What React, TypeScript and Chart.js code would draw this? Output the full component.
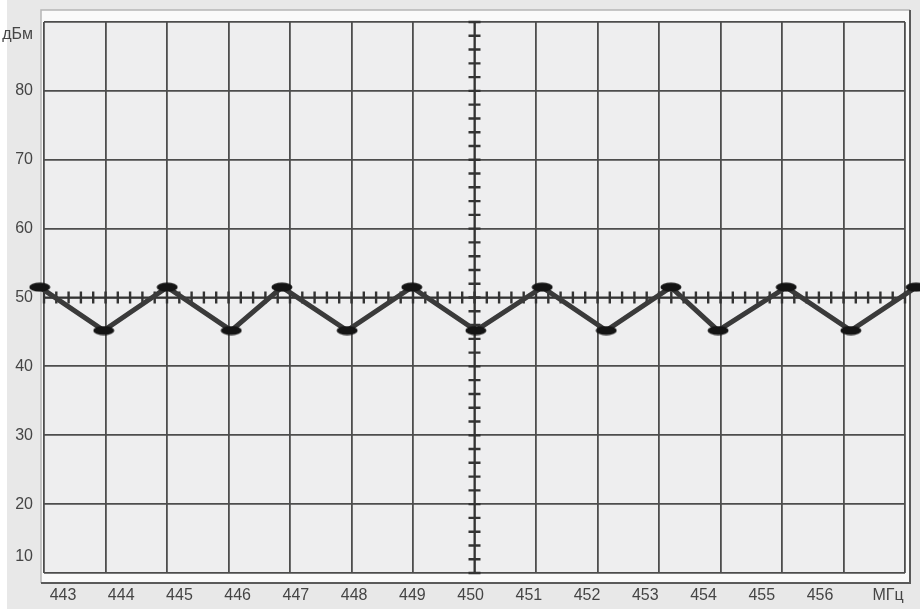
import React, { useEffect, useRef } from 'react';
import { Chart, registerables } from 'chart.js';

Chart.register(...registerables);

// ---- data ----
const freqMHz = [442.6, 443.7, 444.79, 445.89, 446.76, 447.88, 448.99, 450.09, 451.23, 452.33, 453.44, 454.25, 455.42, 456.53, 457.65];
const levelDbm = [51.5, 45.2, 51.5, 45.2, 51.5, 45.2, 51.5, 45.2, 51.5, 45.2, 51.5, 45.2, 51.5, 45.2, 51.5];
const xTickValues = [443, 444, 445, 446, 447, 448, 449, 450, 451, 452, 453, 454, 455, 456];
const xUnitLabel = 'МГц';
const xUnitPos = 457.17;
const xMin = 442.674;
const xMax = 457.46;
const yTickValues = [10, 20, 30, 40, 50, 60, 70, 80, 90];
const yUnitLabel = 'дБм';
const yMin = 10;
const yMax = 90;
const gridDivisions = 14;
const minorPerDivision = 5;

const FONT = '"Liberation Sans", Arial, sans-serif';
const TEXT = '#454545';
const GRID = '#4d4d4d';

function makeMarker(): HTMLCanvasElement {
  const c = document.createElement('canvas');
  c.width = 22;
  c.height = 10;
  const g = c.getContext('2d')!;
  g.fillStyle = '#141414';
  g.beginPath();
  g.ellipse(11, 5, 10.5, 4.5, 0, 0, Math.PI * 2);
  g.fill();
  return c;
}

const framePlugin = {
  id: 'scopeFrame',
  beforeDraw(chart: any) {
    const { ctx, chartArea: a, width, height } = chart;
    ctx.save();
    ctx.fillStyle = '#e8e8e8';
    ctx.fillRect(0, 0, width, height);
    ctx.fillStyle = '#ffffff';
    ctx.fillRect(0, 0, 7, height);
    const pl = a.left - 3, pt = a.top - 12, pr = a.right + 5, pb = a.bottom + 10;
    ctx.fillStyle = '#fafafa';
    ctx.fillRect(pl, pt, pr - pl, pb - pt);
    ctx.strokeStyle = '#b5b5b5';
    ctx.lineWidth = 1.5;
    ctx.beginPath();
    ctx.moveTo(pl, pb);
    ctx.lineTo(pl, pt);
    ctx.lineTo(pr, pt);
    ctx.stroke();
    ctx.strokeStyle = '#5a5a5a';
    ctx.lineWidth = 2;
    ctx.beginPath();
    ctx.moveTo(pl, pb);
    ctx.lineTo(pr, pb);
    ctx.lineTo(pr, pt);
    ctx.stroke();
    ctx.fillStyle = '#eeeeef';
    ctx.fillRect(a.left, a.top, a.right - a.left, a.bottom - a.top);
    ctx.restore();
  },
  beforeDatasetsDraw(chart: any) {
    const { ctx, chartArea: a, scales } = chart;
    const gx = scales.xGrid;
    const y = scales.y;
    const cx = gx.getPixelForValue(gridDivisions / 2);
    const cy = y.getPixelForValue((yMin + yMax) / 2);
    ctx.save();
    ctx.strokeStyle = '#333333';
    ctx.lineWidth = 2.4;
    ctx.beginPath();
    const yStep = 10 / minorPerDivision;
    for (let v = yMin; v <= yMax + 1e-6; v += yStep) {
      const py = y.getPixelForValue(v);
      ctx.moveTo(cx - 6, py);
      ctx.lineTo(cx + 6, py);
    }
    const xStep = 1 / minorPerDivision;
    for (let v = 0; v <= gridDivisions + 1e-6; v += xStep) {
      const px = gx.getPixelForValue(v);
      ctx.moveTo(px, cy - 6);
      ctx.lineTo(px, cy + 6);
    }
    ctx.stroke();
    ctx.lineWidth = 2;
    ctx.beginPath();
    ctx.moveTo(cx, a.top);
    ctx.lineTo(cx, a.bottom);
    ctx.moveTo(a.left, cy);
    ctx.lineTo(a.right, cy);
    ctx.stroke();
    ctx.restore();
  },
};

export default function App() {
  const ref = useRef<HTMLCanvasElement | null>(null);

  useEffect(() => {
    if (!ref.current) return;
    const marker = makeMarker();
    const chart = new Chart(ref.current, {
      type: 'line',
      data: {
        datasets: [
          {
            data: freqMHz.map((f, i) => ({ x: f, y: levelDbm[i] })),
            borderColor: '#3a3a3a',
            borderWidth: 5,
            pointStyle: marker as any,
            pointRadius: 10,
            pointHoverRadius: 10,
            tension: 0,
            clip: false as any,
          },
        ],
      },
      options: {
        animation: false,
        responsive: true,
        maintainAspectRatio: false,
        events: [],
        layout: { padding: { left: 0, top: 22, right: 15, bottom: 0 } },
        plugins: { legend: { display: false }, tooltip: { enabled: false } },
        scales: {
          x: {
            type: 'linear',
            position: 'bottom',
            min: xMin,
            max: xMax,
            afterBuildTicks: (s: any) => {
              s.ticks = [...xTickValues, xUnitPos].map((v) => ({ value: v }));
            },
            afterFit: (s: any) => {
              s.height = 36;
              s.paddingLeft = 0;
              s.paddingRight = 0;
              s.paddingTop = 0;
              s.paddingBottom = 0;
            },
            grid: { display: false, drawTicks: false },
            border: { display: false },
            ticks: {
              autoSkip: false,
              maxRotation: 0,
              padding: 13,
              color: TEXT,
              font: { family: FONT, size: 16 },
              callback: (v: any) => (v === xUnitPos ? xUnitLabel : String(v)),
            },
          },
          xGrid: {
            type: 'linear',
            position: 'top',
            min: 0,
            max: gridDivisions,
            afterFit: (s: any) => {
              s.height = 0;
              s.paddingLeft = 0;
              s.paddingRight = 0;
              s.paddingTop = 0;
              s.paddingBottom = 0;
            },
            ticks: { display: false, stepSize: 1 },
            grid: { display: true, drawTicks: false, color: GRID, lineWidth: 1.8 },
            border: { display: false },
          },
          y: {
            type: 'linear',
            position: 'left',
            min: yMin,
            max: yMax,
            afterBuildTicks: (s: any) => {
              s.ticks = yTickValues.map((v) => ({ value: v }));
            },
            afterFit: (s: any) => {
              s.width = 44;
              s.paddingLeft = 0;
              s.paddingRight = 0;
              s.paddingTop = 0;
              s.paddingBottom = 0;
            },
            grid: { display: true, drawTicks: false, color: GRID, lineWidth: 1.8 },
            border: { display: false },
            ticks: {
              padding: 11,
              color: TEXT,
              font: (c: any) => {
                const v = c.tick ? c.tick.value : 0;
                return {
                  family: FONT,
                  size: 16,
                  lineHeight: v === yMax ? 26 / 16 : v === yMin ? 32 / 16 : 1.2,
                };
              },
              callback: (v: any) => {
                if (v === yMax) return ['', yUnitLabel];
                if (v === yMin) return [String(v), ''];
                return String(v);
              },
            },
          },
        },
      },
      plugins: [framePlugin],
    });
    return () => chart.destroy();
  }, []);

  return (
    <div style={{ position: 'fixed', left: 0, top: 0, width: 920, height: 609 }}>
      <canvas ref={ref} />
    </div>
  );
}
